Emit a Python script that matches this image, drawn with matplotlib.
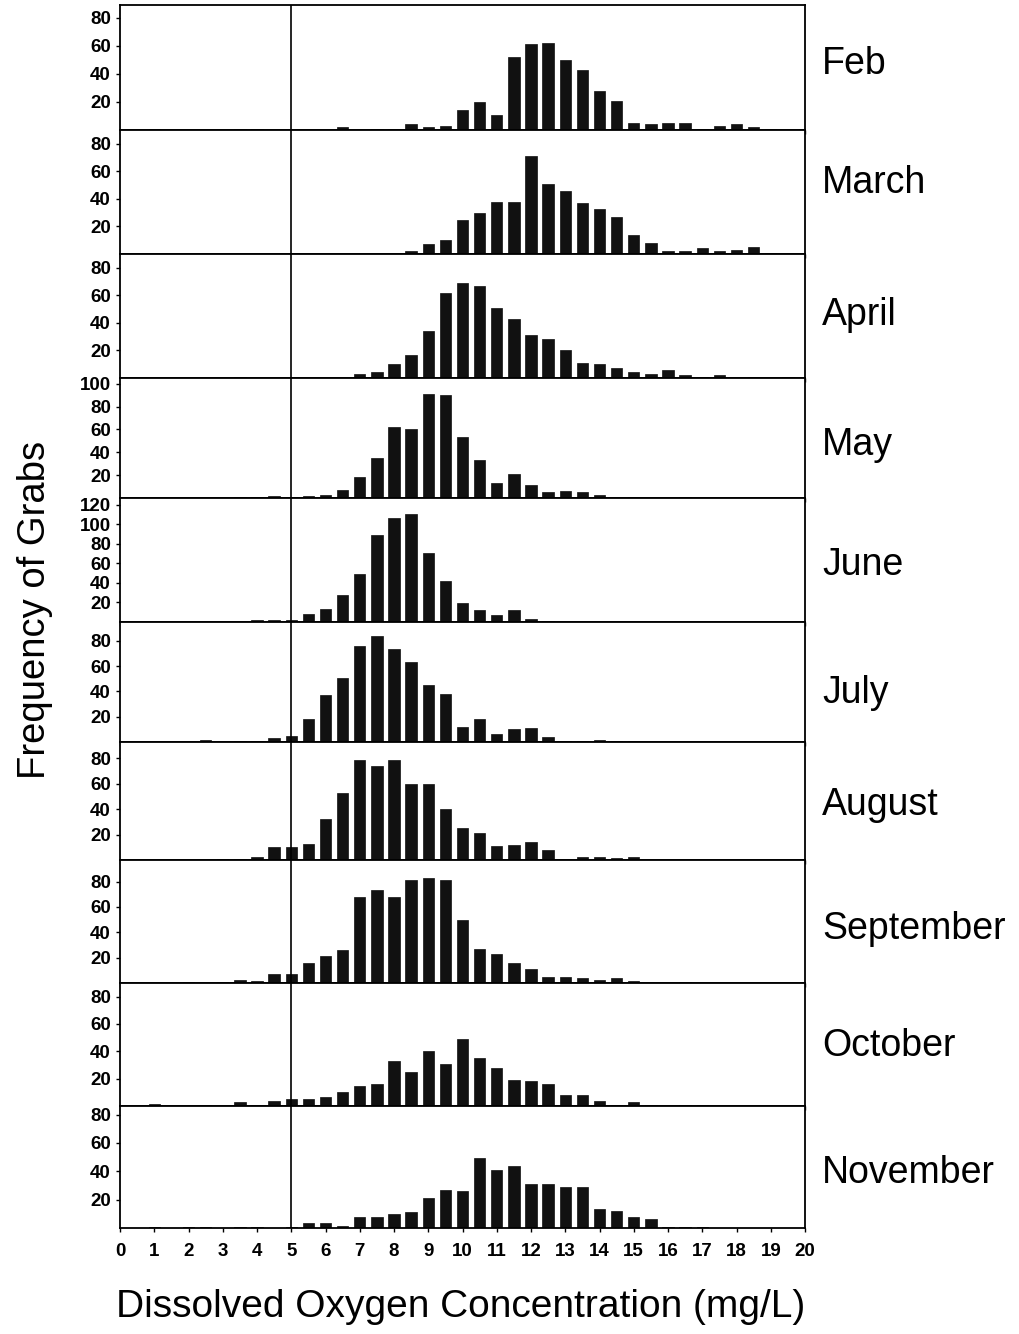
import numpy as np
import matplotlib
matplotlib.use("Agg")
import matplotlib.pyplot as plt

plt.rcParams['font.family'] = ['Liberation Sans', 'DejaVu Sans']

# bin centres, mg/L (0, 0.5, ... 20)
bins = np.arange(0, 20.5, 0.5)

months = ['Feb', 'March', 'April', 'May', 'June', 'July', 'August',
          'September', 'October', 'November']

feb = [0, 0, 1, 0, 0, 0, 0, 1, 1, 0,
       0, 0, 0, 2, 0, 1, 1, 4, 2, 3,
       14, 20, 11, 52, 61, 62, 50, 43, 28, 21,
       5, 4, 5, 5, 1, 3, 4, 2, 1, 0, 1]
march = [0, 0, 0, 0, 0, 0, 0, 0, 0, 0,
         0, 0, 0, 0, 0, 0, 0, 2, 7, 10,
         25, 30, 38, 38, 71, 51, 46, 37, 33, 27,
         14, 8, 2, 2, 4, 2, 3, 5, 1, 0, 0]
april = [0, 0, 0, 0, 0, 0, 0, 1, 0, 0,
         0, 0, 0, 0, 3, 4, 10, 17, 34, 62,
         69, 67, 51, 43, 31, 28, 20, 11, 10, 7,
         4, 3, 6, 2, 1, 2, 0, 1, 0, 1, 0]
may = [0, 0, 0, 0, 0, 0, 0, 0.5, 1, 1.5,
       1, 2, 3, 7, 18, 35, 62, 60, 91, 90,
       53, 33, 13, 21, 11, 5, 6, 5, 3, 0,
       0.5, 0, 0, 0.5, 0, 0, 0, 0, 0, 0, 0]
june = [0, 0, 0, 0, 0, 0, 0, 0, 2, 2.5,
        2.5, 8, 13, 28, 49, 89, 107, 111, 71, 42,
        19, 12, 7, 12, 3, 0.7, 0.5, 0.5, 0.5, 0.5,
        0, 0, 0, 0, 0, 0, 0, 0, 0, 0, 0]
july = [0, 0, 0, 0, 0, 1.5, 0, 0.5, 0.5, 3,
        5, 18, 37, 51, 76, 84, 74, 63, 45, 38,
        12, 18, 6, 10, 11, 4, 1, 1, 1.5, 0.5,
        0.5, 0, 0, 0, 0, 0, 0, 0, 0, 0, 0]
august = [0, 0, 0, 0, 0, 0, 1, 0.5, 2, 10,
          10, 13, 32, 53, 79, 74, 79, 60, 60, 40,
          25, 21, 11, 12, 14, 8, 0.5, 2, 2, 1.5,
          2, 0, 0, 0, 0, 0, 0, 0, 0, 0, 0]
september = [0, 0, 0, 0, 0.5, 0, 1, 2, 1.5, 7,
             7, 16, 21, 26, 68, 73, 68, 81, 83, 81,
             50, 27, 23, 16, 11, 5, 5, 4, 2, 4,
             1.5, 0, 0, 0.5, 0, 0, 0, 0, 0, 0, 0]
october = [0, 0, 1.5, 0, 0, 1, 0, 3, 1, 4,
           5, 5, 6.5, 10, 15, 16, 33, 25, 40, 31,
           49, 35, 28, 19, 18, 16, 8, 8, 4, 1,
           3, 0.5, 0, 1, 0.5, 0, 0, 0, 0, 0, 0]
november = [0, 0, 0.5, 0, 1, 0.5, 0, 0.5, 0.5, 0,
            0.5, 3.5, 3.5, 1.5, 8, 8, 10, 11, 21, 27,
            26, 49, 41, 44, 31, 31, 29, 29, 13.5, 12,
            7.5, 6, 0.5, 1, 0.5, 0, 0, 0, 0, 0, 0]

series = [feb, march, april, may, june, july, august, september, october, november]
y_max = [89, 90, 90, 105, 127, 95, 93, 97, 90, 86]
y_ticks = [[20, 40, 60, 80], [20, 40, 60, 80], [20, 40, 60, 80],
           [20, 40, 60, 80, 100], [20, 40, 60, 80, 100, 120],
           [20, 40, 60, 80], [20, 40, 60, 80], [20, 40, 60, 80],
           [20, 40, 60, 80], [20, 40, 60, 80]]

W, H = 1019, 1334
fig = plt.figure(figsize=(W / 100, H / 100), dpi=100)

# panel edges in pixels (top of first ... bottom of last)
edges = [5, 130, 254, 378, 498, 622, 742, 860, 983, 1106, 1228]
left_px, right_px = 120, 805
label_y = [64, 183, 315, 445, 565, 693, 805, 929, 1046, 1173]

for i, name in enumerate(months):
    top, bot = edges[i], edges[i + 1]
    ax = fig.add_axes([left_px / W, 1 - bot / H, (right_px - left_px) / W, (bot - top) / H])
    ax.bar(bins, series[i], width=0.33, color='#111111', edgecolor='#111111', linewidth=0.5)
    ax.axvline(5, color='black', lw=1.2)
    ax.set_xlim(0, 20)
    ax.set_ylim(0, y_max[i])
    ax.set_xticks(range(0, 21))
    ax.set_yticks(y_ticks[i])
    ax.set_yticklabels([str(t) for t in y_ticks[i]], fontsize=13.5, fontweight='bold')
    ax.tick_params(axis='both', direction='out', length=3, width=1)
    if i < len(months) - 1:
        ax.set_xticklabels([])
    else:
        ax.set_xticklabels([str(t) for t in range(0, 21)], fontsize=13.5, fontweight='bold')
        ax.tick_params(axis='x', pad=8)
    for s in ax.spines.values():
        s.set_linewidth(1.3)
    fig.text(822 / W, 1 - label_y[i] / H, name, fontsize=27, ha='left', va='center')

fig.text(35 / W, 1 - 610 / H, 'Frequency of Grabs', fontsize=27.5, rotation=90,
         ha='center', va='center')
fig.text(461 / W, 1 - 1307 / H, 'Dissolved Oxygen Concentration (mg/L)', fontsize=28,
         ha='center', va='center')

fig.savefig('out.png', dpi=100)
